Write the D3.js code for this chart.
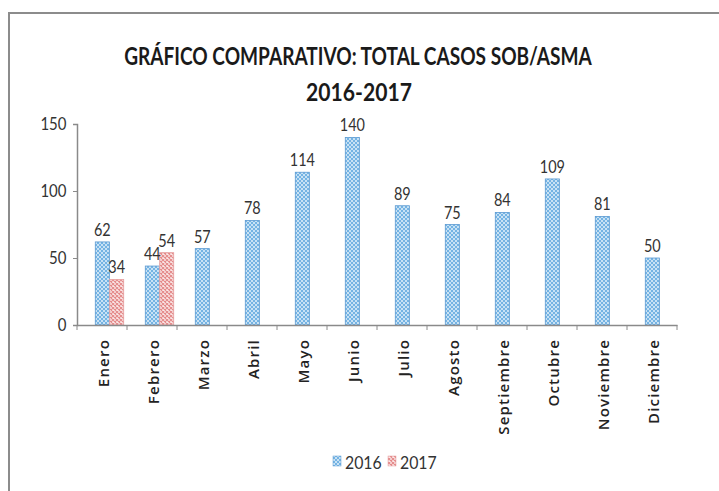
<!DOCTYPE html>
<html>
<head>
<meta charset="utf-8">
<script src="https://cdn.jsdelivr.net/npm/d3@7"></script>
<style>
  body { margin: 0; background: #fff; }
  text { font-family: Lato, "Open Sans", sans-serif; }
</style>
</head>
<body>
<div id="chart"></div>
<script>
// data
var months = ["Enero", "Febrero", "Marzo", "Abril", "Mayo", "Junio", "Julio",
              "Agosto", "Septiembre", "Octubre", "Noviembre", "Diciembre"];
var values2016 = [62, 44, 57, 78, 114, 140, 89, 75, 84, 109, 81, 50];
var values2017 = [34, 54, null, null, null, null, null, null, null, null, null, null];
var seriesNames = ["2016", "2017"];
var yTicks = [0, 50, 100, 150];

var svgWidth = 719, svgHeight = 491;

var svg = d3.select("#chart").append("svg")
  .attr("width", svgWidth)
  .attr("height", svgHeight);

// patterns
var defs = svg.append("defs");
var pBlue = defs.append("pattern").attr("id", "pBlue")
  .attr("width", 4).attr("height", 4).attr("patternUnits", "userSpaceOnUse");
pBlue.append("rect").attr("width", 4).attr("height", 4).attr("fill", "#74b3e3");
pBlue.append("circle").attr("cx", 1).attr("cy", 1).attr("r", 1).attr("fill", "#e4f2fb");
pBlue.append("circle").attr("cx", 3).attr("cy", 3).attr("r", 1).attr("fill", "#e4f2fb");

var pRed = defs.append("pattern").attr("id", "pRed")
  .attr("width", 4).attr("height", 4).attr("patternUnits", "userSpaceOnUse");
pRed.append("rect").attr("width", 4).attr("height", 4).attr("fill", "#fbe9e9");
pRed.append("path").attr("d", "M0,0L4,4M4,0L0,4").attr("stroke", "#e48a8a").attr("stroke-width", 1.1);

// outer frame
svg.append("path")
  .attr("d", "M9,491V13H719")
  .attr("fill", "none")
  .attr("stroke", "#8c8c8c")
  .attr("stroke-width", 2);

// title (condensed via horizontal scale)
svg.append("text")
  .attr("transform", "translate(358,65) scale(0.795,1)")
  .attr("text-anchor", "middle")
  .attr("font-size", 24).attr("font-weight", "bold").attr("fill", "#1a1a1a")
  .text("GRÁFICO COMPARATIVO: TOTAL CASOS SOB/ASMA");
svg.append("text")
  .attr("transform", "translate(359,101) scale(0.88,1)")
  .attr("text-anchor", "middle")
  .attr("font-size", 24).attr("font-weight", "bold").attr("fill", "#1a1a1a")
  .text("2016-2017");

// scales
var x0 = d3.scaleBand().domain(months).range([77, 677]);
var x1 = d3.scaleBand().domain(seriesNames).range([18, 47]).padding(0.02);
var y = d3.scaleLinear().domain([0, 150]).range([325, 124]);

// y axis
var yAxis = svg.append("g")
  .attr("transform", "translate(77,0)")
  .call(d3.axisLeft(y).tickValues(yTicks).tickSize(4).tickPadding(8).tickFormat(d3.format("d")));
yAxis.select(".domain").attr("stroke", "#8a8a8a").attr("stroke-width", 1.5);
yAxis.selectAll(".tick line").attr("stroke", "#8a8a8a");
yAxis.selectAll(".tick text").attr("font-size", 17).attr("fill", "#333")
  .attr("transform", "scale(0.88,1)")
  .style("font-family", "Lato, sans-serif");

// bars
var groups = svg.selectAll(".month")
  .data(months)
  .enter().append("g")
  .attr("transform", d => `translate(${x0(d)},0)`);

var barData = months.map((m, i) => [
  { series: "2016", value: values2016[i], fill: "url(#pBlue)", stroke: "#5b9ad2" },
  { series: "2017", value: values2017[i], fill: "url(#pRed)", stroke: "#e6a0a0" }
].filter(d => d.value != null));

groups.each(function(m, i) {
  var g = d3.select(this);
  g.selectAll("rect").data(barData[i]).enter().append("rect")
    .attr("x", d => x1(d.series))
    .attr("width", x1.bandwidth())
    .attr("y", d => y(d.value))
    .attr("height", d => y(0) - y(d.value))
    .attr("fill", d => d.fill)
    .attr("stroke", d => d.stroke)
    .attr("stroke-width", 0.8);
  g.selectAll("text.lbl").data(barData[i]).enter().append("text")
    .attr("class", "lbl")
    .attr("transform", d => `translate(${x1(d.series) + x1.bandwidth() / 2},${y(d.value) - 6}) scale(0.85,1)`)
    .attr("text-anchor", "middle")
    .attr("font-size", 17).attr("fill", "#333")
    .text(d => d.value);
});

// x axis
var xAxis = svg.append("g")
  .attr("transform", "translate(0,325)")
  .call(d3.axisBottom(x0).tickSize(0).tickFormat(""));
xAxis.select(".domain").attr("stroke", "#8a8a8a").attr("stroke-width", 1.5);
xAxis.selectAll(".tick").remove();

// ticks at band boundaries
var boundaries = months.map(m => x0(m)).concat([x0.range()[1]]);
svg.selectAll(".xtick").data(boundaries).enter().append("line")
  .attr("x1", d => d).attr("x2", d => d)
  .attr("y1", 325).attr("y2", 330)
  .attr("stroke", "#8a8a8a");

// x labels
svg.selectAll(".xlabel").data(months).enter().append("text")
  .attr("transform", d => `translate(${x0(d) + x0.bandwidth() / 2 + 7},339) rotate(-90)`)
  .attr("text-anchor", "end")
  .attr("font-size", 15)
  .attr("font-weight", 600)
  .attr("fill", "#222")
  .style("font-family", "'Open Sans', sans-serif")
  .style("letter-spacing", "1.2px")
  .text(d => d);

// legend
var legend = svg.append("g").attr("transform", "translate(333,455)");
var legendItems = [
  { name: seriesNames[0], fill: "url(#pBlue)", stroke: "#5b9ad2", x: 0 },
  { name: seriesNames[1], fill: "url(#pRed)", stroke: "#e6a0a0", x: 55 }
];
legendItems.forEach(function(d) {
  legend.append("rect")
    .attr("x", d.x).attr("y", 1).attr("width", 8).attr("height", 10)
    .attr("fill", d.fill).attr("stroke", d.stroke).attr("stroke-width", 0.5);
  legend.append("text")
    .attr("transform", `translate(${d.x + 12},14) scale(0.88,1)`)
    .attr("font-size", 18).attr("fill", "#333")
    .text(d.name);
});
</script>
</body>
</html>
